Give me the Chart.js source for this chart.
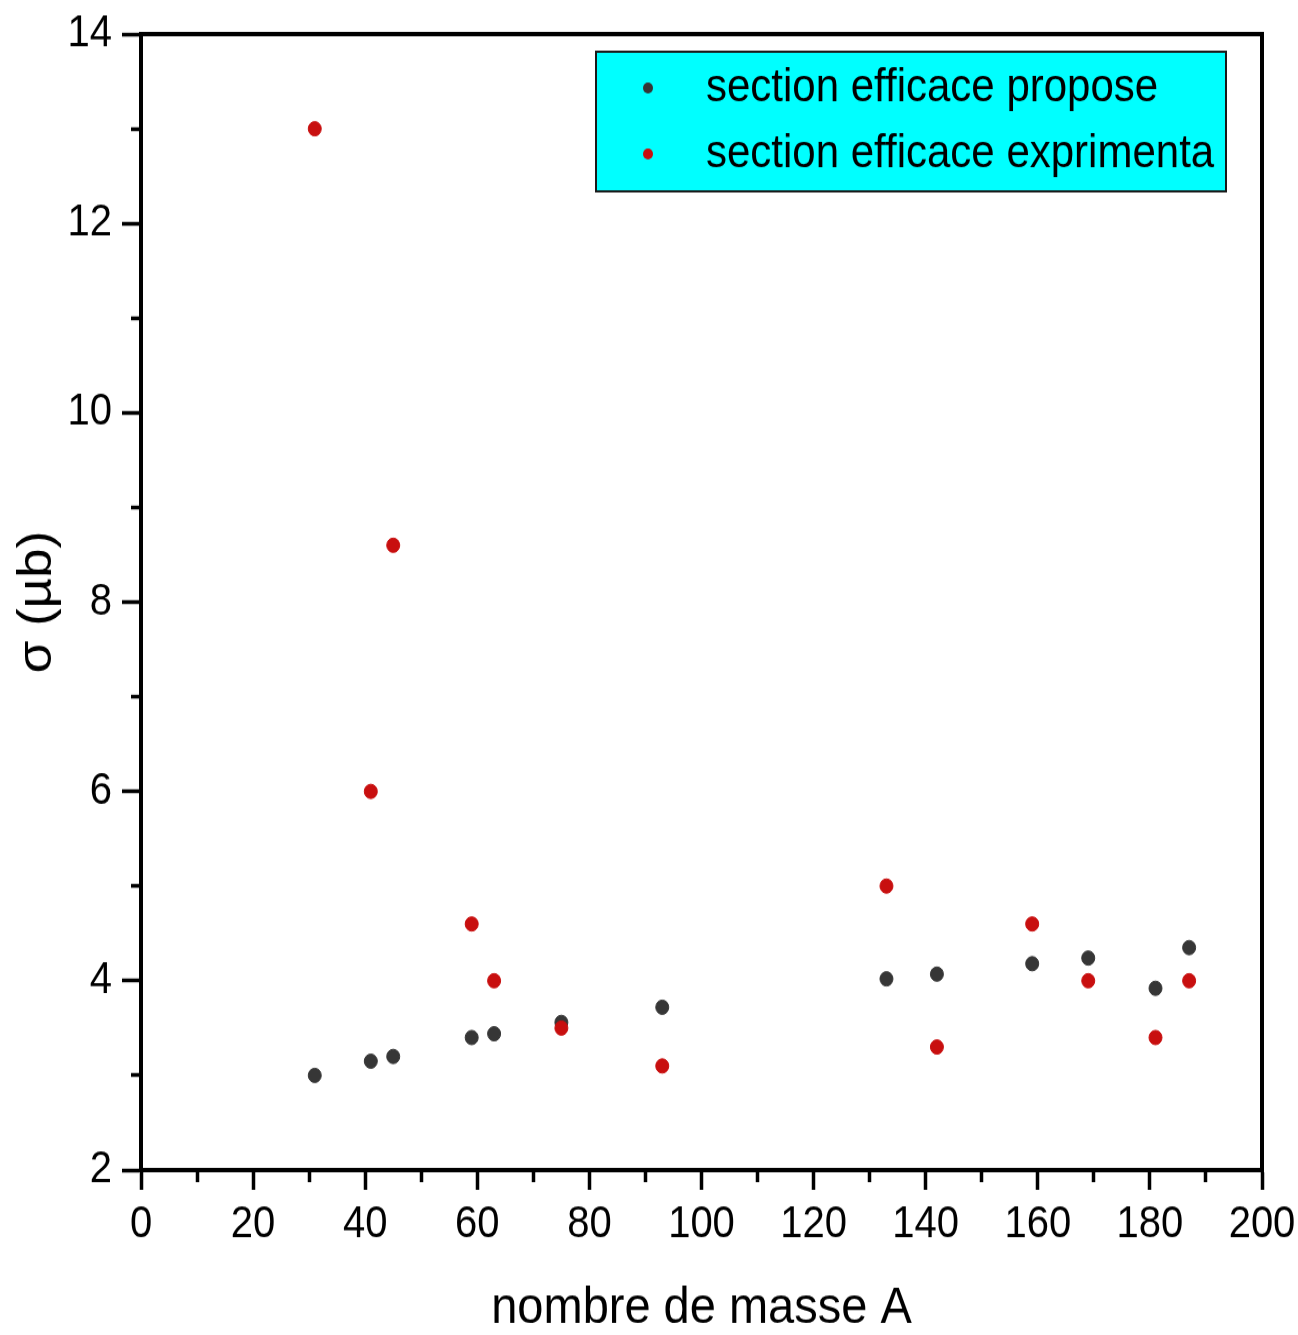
<!DOCTYPE html>
<html>
<head>
<meta charset="utf-8">
<script src="https://cdn.jsdelivr.net/npm/chart.js@4/dist/chart.umd.min.js"></script>
<style>
  body { margin: 0; background: #fff; }
</style>
</head>
<body>
<!-- the original picture is a little taller than wide in its proportions, so the canvas is stretched -->
<canvas id="chart" width="1298" height="1214" style="display:block;width:1298px;height:1335px"></canvas>
<script>
const massNumbers = [31, 41, 45, 59, 63, 75, 93, 133, 142, 159, 169, 181, 187];
const sigmaProposed = [3.0, 3.15, 3.2, 3.4, 3.44, 3.56, 3.72, 4.02, 4.07, 4.18, 4.24, 3.92, 4.35];
const sigmaExperimental = [13.0, 6.0, 8.6, 4.6, 4.0, 3.5, 3.1, 5.0, 3.3, 4.6, 4.0, 3.4, 4.0];
const seriesLabels = ['section efficace propose', 'section efficace exprimenta'];

const FONT = '"Liberation Sans", Arial, sans-serif';

const toPoints = ys => massNumbers.map((x, i) => ({ x, y: ys[i] }));

// top and right sides of the box
const framePlugin = {
    id: 'frame',
    afterDraw(chart) {
        const { ctx, chartArea: a } = chart;
        ctx.save();
        ctx.strokeStyle = '#000';
        ctx.lineWidth = 4;
        ctx.beginPath();
        ctx.moveTo(a.left - 2, a.top);
        ctx.lineTo(a.right, a.top);
        ctx.lineTo(a.right, a.bottom + 2);
        ctx.stroke();
        ctx.restore();
    }
};

// cyan legend box, drawn from the datasets
const legendPlugin = {
    id: 'cyanLegend',
    afterDraw(chart) {
        const ctx = chart.ctx;
        const bx = 596, by = 47, bw = 630, bh = 127;
        ctx.save();
        ctx.fillStyle = '#00ffff';
        ctx.fillRect(bx, by, bw, bh);
        ctx.strokeStyle = '#1a1a1a';
        ctx.lineWidth = 2;
        ctx.strokeRect(bx, by, bw, bh);
        chart.data.datasets.forEach((ds, i) => {
            const y = by + 33 + i * 60;
            ctx.fillStyle = ds.backgroundColor;
            ctx.beginPath();
            ctx.arc(bx + 52, y, 5, 0, Math.PI * 2);
            ctx.fill();
            ctx.fillStyle = '#000';
            ctx.font = '42px ' + FONT;
            ctx.textBaseline = 'middle';
            ctx.textAlign = 'left';
            ctx.fillText(ds.label, bx + 110, y);
        });
        ctx.restore();
    }
};

const chart = new Chart(document.getElementById('chart'), {
    type: 'scatter',
    data: {
        datasets: [
            {
                label: seriesLabels[0],
                data: toPoints(sigmaProposed),
                backgroundColor: '#363636',
                borderColor: '#363636',
                pointRadius: 6.5,
                order: 1
            },
            {
                label: seriesLabels[1],
                data: toPoints(sigmaExperimental),
                backgroundColor: '#c80f0f',
                borderColor: '#c80f0f',
                pointRadius: 6.5,
                order: 0
            }
        ]
    },
    plugins: [framePlugin, legendPlugin],
    options: {
        responsive: false,
        devicePixelRatio: 1,
        animation: false,
        layout: { padding: { top: 31, right: 36, left: 0, bottom: 0 } },
        plugins: {
            legend: { display: false },
            tooltip: { enabled: false }
        },
        scales: {
            x: {
                type: 'linear',
                min: 0,
                max: 200,
                afterFit: s => { s.height = 150; s.paddingLeft = 0; s.paddingRight = 0; },
                border: { display: true, color: '#000', width: 4 },
                grid: {
                    drawOnChartArea: false,
                    drawTicks: true,
                    tickLength: 18,
                    tickWidth: 3.5,
                    tickColor: '#000',
                    tickBorderDash: c => (c.tick && c.tick.value % 20 !== 0) ? [9, 100] : []
                },
                ticks: {
                    stepSize: 10,
                    padding: 8,
                    color: '#000',
                    font: { family: FONT, size: 40 },
                    maxRotation: 0,
                    autoSkip: false,
                    callback: v => (v % 20 === 0 ? String(v) : '')
                },
                title: {
                    display: true,
                    text: 'nombre de masse A',
                    color: '#000',
                    font: { family: FONT, size: 47, lineHeight: 1 },
                    padding: 0
                }
            },
            y: {
                type: 'linear',
                min: 2,
                max: 14,
                afterFit: s => { s.width = 141; s.paddingTop = 0; s.paddingBottom = 0; },
                border: { display: true, color: '#000', width: 4 },
                grid: {
                    drawOnChartArea: false,
                    drawTicks: true,
                    tickLength: 19,
                    tickWidth: 3.5,
                    tickColor: '#000',
                    tickBorderDash: c => (c.tick && c.tick.value % 2 !== 0) ? [0, 9, 8, 100] : []
                },
                ticks: {
                    stepSize: 1,
                    padding: 10,
                    color: '#000',
                    font: { family: FONT, size: 40 },
                    autoSkip: false,
                    callback: v => (v % 2 === 0 ? String(v) : '')
                },
                title: {
                    display: true,
                    text: 'σ (µb)',
                    color: '#000',
                    font: { family: FONT, size: 48 },
                    padding: { top: 9, bottom: 0 }
                }
            }
        }
    }
});
</script>
</body>
</html>
